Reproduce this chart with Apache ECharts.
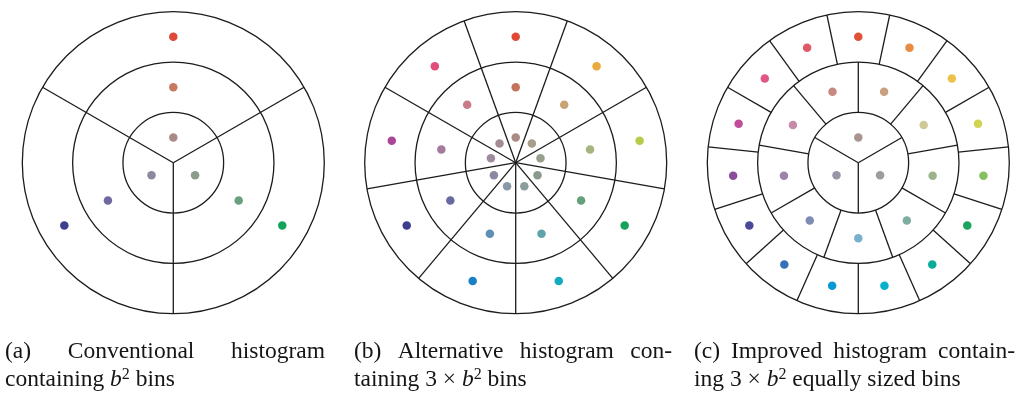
<!DOCTYPE html>
<html>
<head>
<meta charset="utf-8">
<script src="https://cdn.jsdelivr.net/npm/echarts@6/dist/echarts.min.js"></script>
<style>
  html, body { margin: 0; padding: 0; background: #fff; }
  #chart { width: 1021px; height: 393px; }
</style>
</head>
<body>
<div id="chart"></div>
<script>
// Ring boundaries, in ring-width units: every disc is three rings deep
const ringEdges = [1, 2, 3];

// Bin borders as [angle in degrees, inner radius, outer radius]
const spokesA = [[30, 0, 3], [150, 0, 3], [270, 0, 3]];
const spokesB = [
  [30, 0, 3], [70, 0, 3], [110, 0, 3], [150, 0, 3], [190, 0, 3],
  [230, 0, 3], [270, 0, 3], [310, 0, 3], [350, 0, 3]
];
const spokesCInner = [[30, 0, 1], [150, 0, 1], [270, 0, 1]];
const spokesCMiddle = [
  [10, 1, 2], [50, 1, 2], [90, 1, 2], [130, 1, 2], [170, 1, 2],
  [210, 1, 2], [250, 1, 2], [290, 1, 2], [330, 1, 2]
];
const spokesCOuter = [
  [6, 2, 3], [30, 2, 3], [54, 2, 3], [78, 2, 3], [102, 2, 3],
  [126, 2, 3], [150, 2, 3], [174, 2, 3], [198, 2, 3], [222, 2, 3],
  [246, 2, 3], [270, 2, 3], [294, 2, 3], [318, 2, 3], [342, 2, 3]
];

// Bin centres as [radius, angle in degrees, colour]
const dotsA = [
  [0.5, 90, '#a68c85'], [0.5, 210, '#8c889f'], [0.5, 330, '#8a9c8e'],
  [1.5, 90, '#c67a62'], [1.5, 210, '#6e6aa1'], [1.5, 330, '#68a07e'],
  [2.5, 90, '#e0483a'], [2.5, 210, '#3e3f8f'], [2.5, 330, '#14a35c']
];
const dotsB = [
  [0.5, 90, '#a88c84'], [0.5, 50, '#a89c8a'], [0.5, 10, '#98a08c'],
  [0.5, 330, '#8a9a8c'], [0.5, 290, '#8a9c9c'], [0.5, 250, '#8898a6'],
  [0.5, 210, '#8c88a0'], [0.5, 170, '#9e8c9e'], [0.5, 130, '#a48c94'],
  [1.5, 90, '#c4745c'], [1.5, 50, '#c8a472'], [1.5, 10, '#a8b47e'],
  [1.5, 330, '#64a07a'], [1.5, 290, '#5ea4a8'], [1.5, 250, '#5e90b4'],
  [1.5, 210, '#6a68a0'], [1.5, 170, '#a67a9e'], [1.5, 130, '#c87a88'],
  [2.5, 90, '#e04a35'], [2.5, 50, '#eaaa3c'], [2.5, 10, '#b6cc48'],
  [2.5, 330, '#15a35a'], [2.5, 290, '#12abc0'], [2.5, 250, '#1a80c6'],
  [2.5, 210, '#3d3d8e'], [2.5, 170, '#a94796'], [2.5, 130, '#e14e78']
];
const dotsC = [
  [0.5, 90, '#a8968e'], [0.5, 330, '#98a098'], [0.5, 210, '#9896a6'],
  [1.5, 110, '#c88882'], [1.5, 70, '#c8a080'], [1.5, 30, '#d0c896'],
  [1.5, 350, '#9cb48c'], [1.5, 310, '#7eaca0'], [1.5, 270, '#7ab0cc'],
  [1.5, 230, '#7e8cb4'], [1.5, 190, '#9a84aa'], [1.5, 150, '#c68aaa'],
  [2.5, 90, '#e05238'], [2.5, 66, '#e88c44'], [2.5, 42, '#ecc24a'],
  [2.5, 18, '#d0d452'], [2.5, 354, '#84c060'], [2.5, 330, '#1aa45e'],
  [2.5, 306, '#08ac98'], [2.5, 282, '#06b0cc'], [2.5, 258, '#0898d4'],
  [2.5, 234, '#3870b8'], [2.5, 210, '#4c4898'], [2.5, 186, '#8c4c9c'],
  [2.5, 162, '#c04c9a'], [2.5, 138, '#e05686'], [2.5, 114, '#e05a66']
];

// Caption lines: the first line of each is set justified, the second ragged
const captionA = [['(a)', 'Conventional', 'histogram'], 'containing {it|b}{sup|2} bins'];
const captionB = [['(b)', 'Alternative', 'histogram', 'con-'], 'taining 3 × {it|b}{sup|2} bins'];
const captionC = [['(c)', 'Improved', 'histogram', 'contain-'], 'ing 3 × {it|b}{sup|2} equally sized bins'];

const LINE = '#1c1c1c';
const LINE_W = 1.3;
const CENTERS = [[173.3, 162.7], [515.7, 162.7], [858.3, 162.7]];
const RADIUS = 151;

const polar = CENTERS.map(c => ({ center: c, radius: RADIUS }));

const angleAxis = CENTERS.map((c, i) => ({
  polarIndex: i, type: 'value', min: 0, max: 360, startAngle: 0, clockwise: false,
  axisLine: { show: false }, axisTick: { show: false },
  axisLabel: { show: false }, splitLine: { show: false }
}));

const radiusAxis = CENTERS.map((c, i) => ({
  polarIndex: i, type: 'value', min: 0, max: ringEdges[ringEdges.length - 1], interval: 1,
  axisLine: { show: false }, axisTick: { show: false }, axisLabel: { show: false },
  splitLine: { show: true, lineStyle: { color: LINE, width: LINE_W } }
}));

function spokeSeries(polarIndex, data) {
  return {
    type: 'custom', coordinateSystem: 'polar', polarIndex,
    data, encode: { angle: 0, radius: [1, 2] }, silent: true, z: 2,
    renderItem: function (params, api) {
      const a = api.value(0);
      const p0 = api.coord([api.value(1), a]);
      const p1 = api.coord([api.value(2), a]);
      return {
        type: 'line',
        shape: { x1: p0[0], y1: p0[1], x2: p1[0], y2: p1[1] },
        style: { stroke: LINE, lineWidth: LINE_W }
      };
    }
  };
}

function dotSeries(polarIndex, dots) {
  return {
    type: 'scatter', coordinateSystem: 'polar', polarIndex,
    symbol: 'circle', symbolSize: 8.5, z: 3, silent: true,
    data: dots.map(d => ({ value: [d[0], d[1]], itemStyle: { color: d[2], opacity: 1 } }))
  };
}

// Caption typesetting
const FONT_FAMILY = '"Liberation Serif", "Times New Roman", serif';
const FS = 23.5;
const LH = 27;
const richStyles = {
  it: { fontFamily: FONT_FAMILY, fontSize: FS, fontStyle: 'italic', lineHeight: LH },
  sup: { fontFamily: FONT_FAMILY, fontSize: 16, lineHeight: 17, verticalAlign: 'top' }
};
const measureCtx = document.createElement('canvas').getContext('2d');
measureCtx.font = FS + 'px ' + FONT_FAMILY;

function txt(text, x, y) {
  return {
    type: 'text', x, y, silent: true,
    style: {
      text, fill: '#151515', fontFamily: FONT_FAMILY, fontSize: FS, lineHeight: LH,
      align: 'left', verticalAlign: 'middle', rich: richStyles
    }
  };
}
// Spread the words of a line evenly between the column edges
function justified(words, x0, x1, y) {
  const widths = words.map(w => measureCtx.measureText(w).width);
  const total = widths.reduce((s, w) => s + w, 0);
  const gap = (x1 - x0 - total) / (words.length - 1);
  let x = x0;
  return words.map((w, i) => {
    const el = txt(w, x, y);
    x += widths[i] + gap;
    return el;
  });
}
const Y1 = 352, Y2 = 380;
const COLUMNS = [[5, 325], [354, 672], [694, 1015]];
const graphic = [];
[captionA, captionB, captionC].forEach((cap, i) => {
  const [x0, x1] = COLUMNS[i];
  graphic.push(...justified(cap[0], x0, x1, Y1));
  graphic.push(txt(cap[1], x0, Y2));
});

const chart = echarts.init(document.getElementById('chart'), null, { renderer: 'canvas' });
chart.setOption({
  animation: false,
  backgroundColor: '#fff',
  polar, angleAxis, radiusAxis,
  series: [
    spokeSeries(0, spokesA), dotSeries(0, dotsA),
    spokeSeries(1, spokesB), dotSeries(1, dotsB),
    spokeSeries(2, spokesCInner), spokeSeries(2, spokesCMiddle), spokeSeries(2, spokesCOuter),
    dotSeries(2, dotsC)
  ],
  graphic
});
</script>
</body>
</html>
